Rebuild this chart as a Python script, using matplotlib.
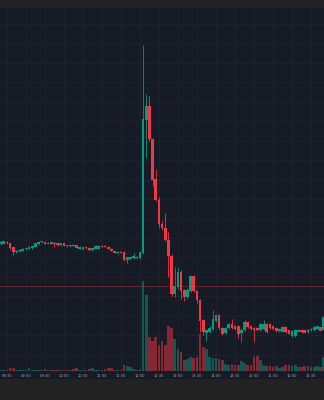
#########################################
# Imports
#########################################

import matplotlib
matplotlib.use("Agg")
import matplotlib.pyplot as plt
from matplotlib.patches import Rectangle
from matplotlib.ticker import MultipleLocator
import numpy as np


#########################################
# Data: 5 minute candles, 08:20 - 16:50
#########################################

start_minute = 8 * 60 + 20
bar_minutes = 5

opens = [2.44, 2.445, 2.465, 2.45, 2.41, 2.36, 2.365, 2.375, 2.39, 2.395,
         2.40, 2.415, 2.44, 2.46, 2.465, 2.455, 2.445, 2.455, 2.45, 2.43,
         2.45, 2.43, 2.42, 2.435, 2.43, 2.395, 2.39, 2.415, 2.405, 2.38,
         2.395, 2.395, 2.425, 2.425, 2.415, 2.395, 2.37, 2.345, 2.36, 2.36,
         2.28, 2.295, 2.30, 2.315, 2.30, 2.35, 3.68, 3.82, 3.49, 3.085,
         2.885, 2.64, 2.605, 2.48, 2.32, 1.945, 2.015, 2.16, 1.98, 1.91,
         1.975, 2.12, 1.975, 1.88, 1.68, 1.55, 1.565, 1.595, 1.675, 1.735,
         1.60, 1.555, 1.605, 1.64, 1.625, 1.62, 1.55, 1.58, 1.665, 1.625,
         1.605, 1.60, 1.58, 1.595, 1.645, 1.64, 1.62, 1.605, 1.57, 1.565,
         1.615, 1.58, 1.52, 1.52, 1.565, 1.585, 1.585, 1.56, 1.595, 1.58,
         1.595, 1.61, 1.58]

highs = [2.47, 2.475, 2.47, 2.455, 2.415, 2.38, 2.39, 2.40, 2.405, 2.425,
         2.425, 2.455, 2.47, 2.475, 2.47, 2.46, 2.465, 2.46, 2.455, 2.455,
         2.455, 2.435, 2.435, 2.44, 2.435, 2.42, 2.415, 2.425, 2.41, 2.405,
         2.43, 2.43, 2.43, 2.43, 2.42, 2.40, 2.375, 2.365, 2.365, 2.365,
         2.31, 2.315, 2.345, 2.32, 2.36, 4.43, 3.94, 3.925, 3.505, 3.195,
         2.915, 2.675, 2.755, 2.565, 2.34, 2.215, 2.215, 2.18, 1.99, 2.00,
         2.135, 2.135, 1.985, 1.89, 1.695, 1.59, 1.62, 1.78, 1.74, 1.745,
         1.61, 1.615, 1.655, 1.695, 1.63, 1.63, 1.60, 1.68, 1.675, 1.63,
         1.615, 1.61, 1.65, 1.68, 1.655, 1.65, 1.63, 1.61, 1.60, 1.62,
         1.62, 1.585, 1.58, 1.59, 1.59, 1.59, 1.59, 1.59, 1.60, 1.62,
         1.625, 1.615, 1.72]

lows = [2.435, 2.44, 2.445, 2.395, 2.335, 2.355, 2.36, 2.37, 2.385, 2.39,
        2.395, 2.41, 2.435, 2.455, 2.44, 2.44, 2.44, 2.415, 2.425, 2.425,
        2.42, 2.415, 2.415, 2.42, 2.40, 2.39, 2.385, 2.395, 2.375, 2.375,
        2.39, 2.39, 2.41, 2.41, 2.39, 2.365, 2.35, 2.34, 2.345, 2.27,
        2.25, 2.29, 2.295, 2.295, 2.295, 2.34, 3.30, 3.47, 3.02, 2.87,
        2.605, 2.58, 2.47, 2.115, 1.92, 1.91, 1.995, 1.895, 1.87, 1.89,
        1.965, 1.96, 1.855, 1.565, 1.53, 1.475, 1.55, 1.58, 1.66, 1.585,
        1.53, 1.54, 1.595, 1.595, 1.58, 1.505, 1.46, 1.57, 1.605, 1.585,
        1.465, 1.57, 1.57, 1.585, 1.55, 1.595, 1.58, 1.56, 1.56, 1.56,
        1.555, 1.54, 1.51, 1.51, 1.56, 1.555, 1.55, 1.555, 1.575, 1.575,
        1.59, 1.57, 1.57]

closes = [2.465, 2.47, 2.45, 2.405, 2.36, 2.375, 2.38, 2.395, 2.40, 2.41,
          2.42, 2.45, 2.465, 2.47, 2.445, 2.445, 2.46, 2.44, 2.43, 2.45,
          2.425, 2.42, 2.43, 2.425, 2.405, 2.415, 2.41, 2.40, 2.38, 2.40,
          2.42, 2.425, 2.415, 2.415, 2.395, 2.37, 2.355, 2.36, 2.35, 2.285,
          2.305, 2.31, 2.32, 2.30, 2.355, 3.695, 3.825, 3.49, 3.085, 2.885,
          2.64, 2.605, 2.48, 2.32, 1.945, 2.02, 2.16, 1.97, 1.91, 1.985,
          2.125, 1.975, 1.88, 1.675, 1.565, 1.58, 1.605, 1.69, 1.73, 1.60,
          1.545, 1.605, 1.64, 1.605, 1.595, 1.545, 1.585, 1.665, 1.615, 1.595,
          1.585, 1.58, 1.64, 1.645, 1.56, 1.605, 1.59, 1.57, 1.59, 1.615,
          1.565, 1.545, 1.575, 1.58, 1.585, 1.56, 1.555, 1.585, 1.58, 1.615,
          1.62, 1.575, 1.715]

# volume in thousands of shares
volumes = [13, 10, 10, 27, 27, 15, 12, 15, 15, 27,
           15, 15, 12, 12, 23, 12, 12, 15, 12, 12,
           15, 12, 12, 20, 27, 15, 12, 15, 20, 27,
           15, 15, 12, 20, 27, 30, 15, 12, 15, 60,
           50, 40, 23, 15, 20, 905, 765, 345, 300, 345,
           265, 305, 260, 450, 435, 325, 220, 195, 115, 125,
           140, 130, 145, 375, 245, 220, 140, 135, 130, 120,
           115, 75, 65, 75, 65, 65, 105, 85, 65, 65,
           140, 155, 115, 65, 55, 50, 40, 50, 35, 40,
           65, 65, 50, 65, 40, 40, 50, 50, 40, 40,
           50, 40, 145]

ref_price = 2.017

tick_labels = ["08:30", "09:00", "09:30", "10:00", "10:30", "11:00", "11:30", "12:00",
               "12:30", "13:00", "13:30", "14:00", "14:30", "15:00", "15:30", "16:00", "16:30"]


#########################################
# Style
#########################################

UP = "#089981"
DOWN = "#f23645"
BG = "#171b26"
OUTER = "#222222"
GRID = "#1f2330"
TEXT = "#9a9da6"

price_lim = (1.17, 4.80)
volume_lim = (0, 3630)
time_lim = (499, 1010.5)
bar_w = 4.2


#########################################
# Plot
#########################################

o = np.array(opens)
h = np.array(highs)
l = np.array(lows)
c = np.array(closes)
v = np.array(volumes)
times = start_minute + bar_minutes * np.arange(len(o))
colors = [UP if cc >= oo else DOWN for oo, cc in zip(o, c)]

fig = plt.figure(figsize=(3.24, 4.0), dpi=100, facecolor=OUTER)
fig.add_artist(Rectangle((0, 21 / 400), 1, 371 / 400, transform=fig.transFigure,
                         facecolor=BG, edgecolor="none", zorder=-1))

rect = [0, 29 / 400, 1, 363 / 400]

# background axes: grid + time labels
ax_bg = fig.add_axes(rect)
ax_bg.set_facecolor(BG)
ax_bg.set_xlim(*time_lim)
ax_bg.set_ylim(*price_lim)
tick_pos = [int(t[:2]) * 60 + int(t[3:]) for t in tick_labels]
ax_bg.set_xticks(tick_pos)
ax_bg.set_xticklabels(tick_labels)
ax_bg.yaxis.set_major_locator(MultipleLocator(0.1945, offset=4.64 % 0.1945))
ax_bg.tick_params(axis="x", length=0, labelsize=2.6, colors=TEXT, pad=1.9)
ax_bg.tick_params(axis="y", left=False, labelleft=False)
ax_bg.grid(True, color=GRID, linewidth=0.7)
for s in ax_bg.spines.values():
    s.set_visible(False)

# volume overlay
ax_vol = fig.add_axes(rect, sharex=ax_bg)
ax_vol.patch.set_visible(False)
ax_vol.axis("off")
ax_vol.set_ylim(*volume_lim)
ax_vol.bar(times, v, width=bar_w, color=colors, alpha=0.5, linewidth=0)

# candles
ax = fig.add_axes(rect, sharex=ax_bg)
ax.patch.set_visible(False)
ax.axis("off")
ax.set_ylim(*price_lim)
ax.axhline(ref_price, color=DOWN, alpha=0.35, linewidth=0.7, zorder=1)
ax.vlines(times, l, h, colors=colors, linewidth=0.6, zorder=2)
body_low = np.minimum(o, c)
body_h = np.maximum(np.abs(c - o), 0.006)
ax.bar(times, body_h, bottom=body_low, width=bar_w, color=colors, linewidth=0, zorder=3)
ax.set_xlim(*time_lim)

fig.savefig("out.png", dpi=100, facecolor=OUTER)
plt.close(fig)
